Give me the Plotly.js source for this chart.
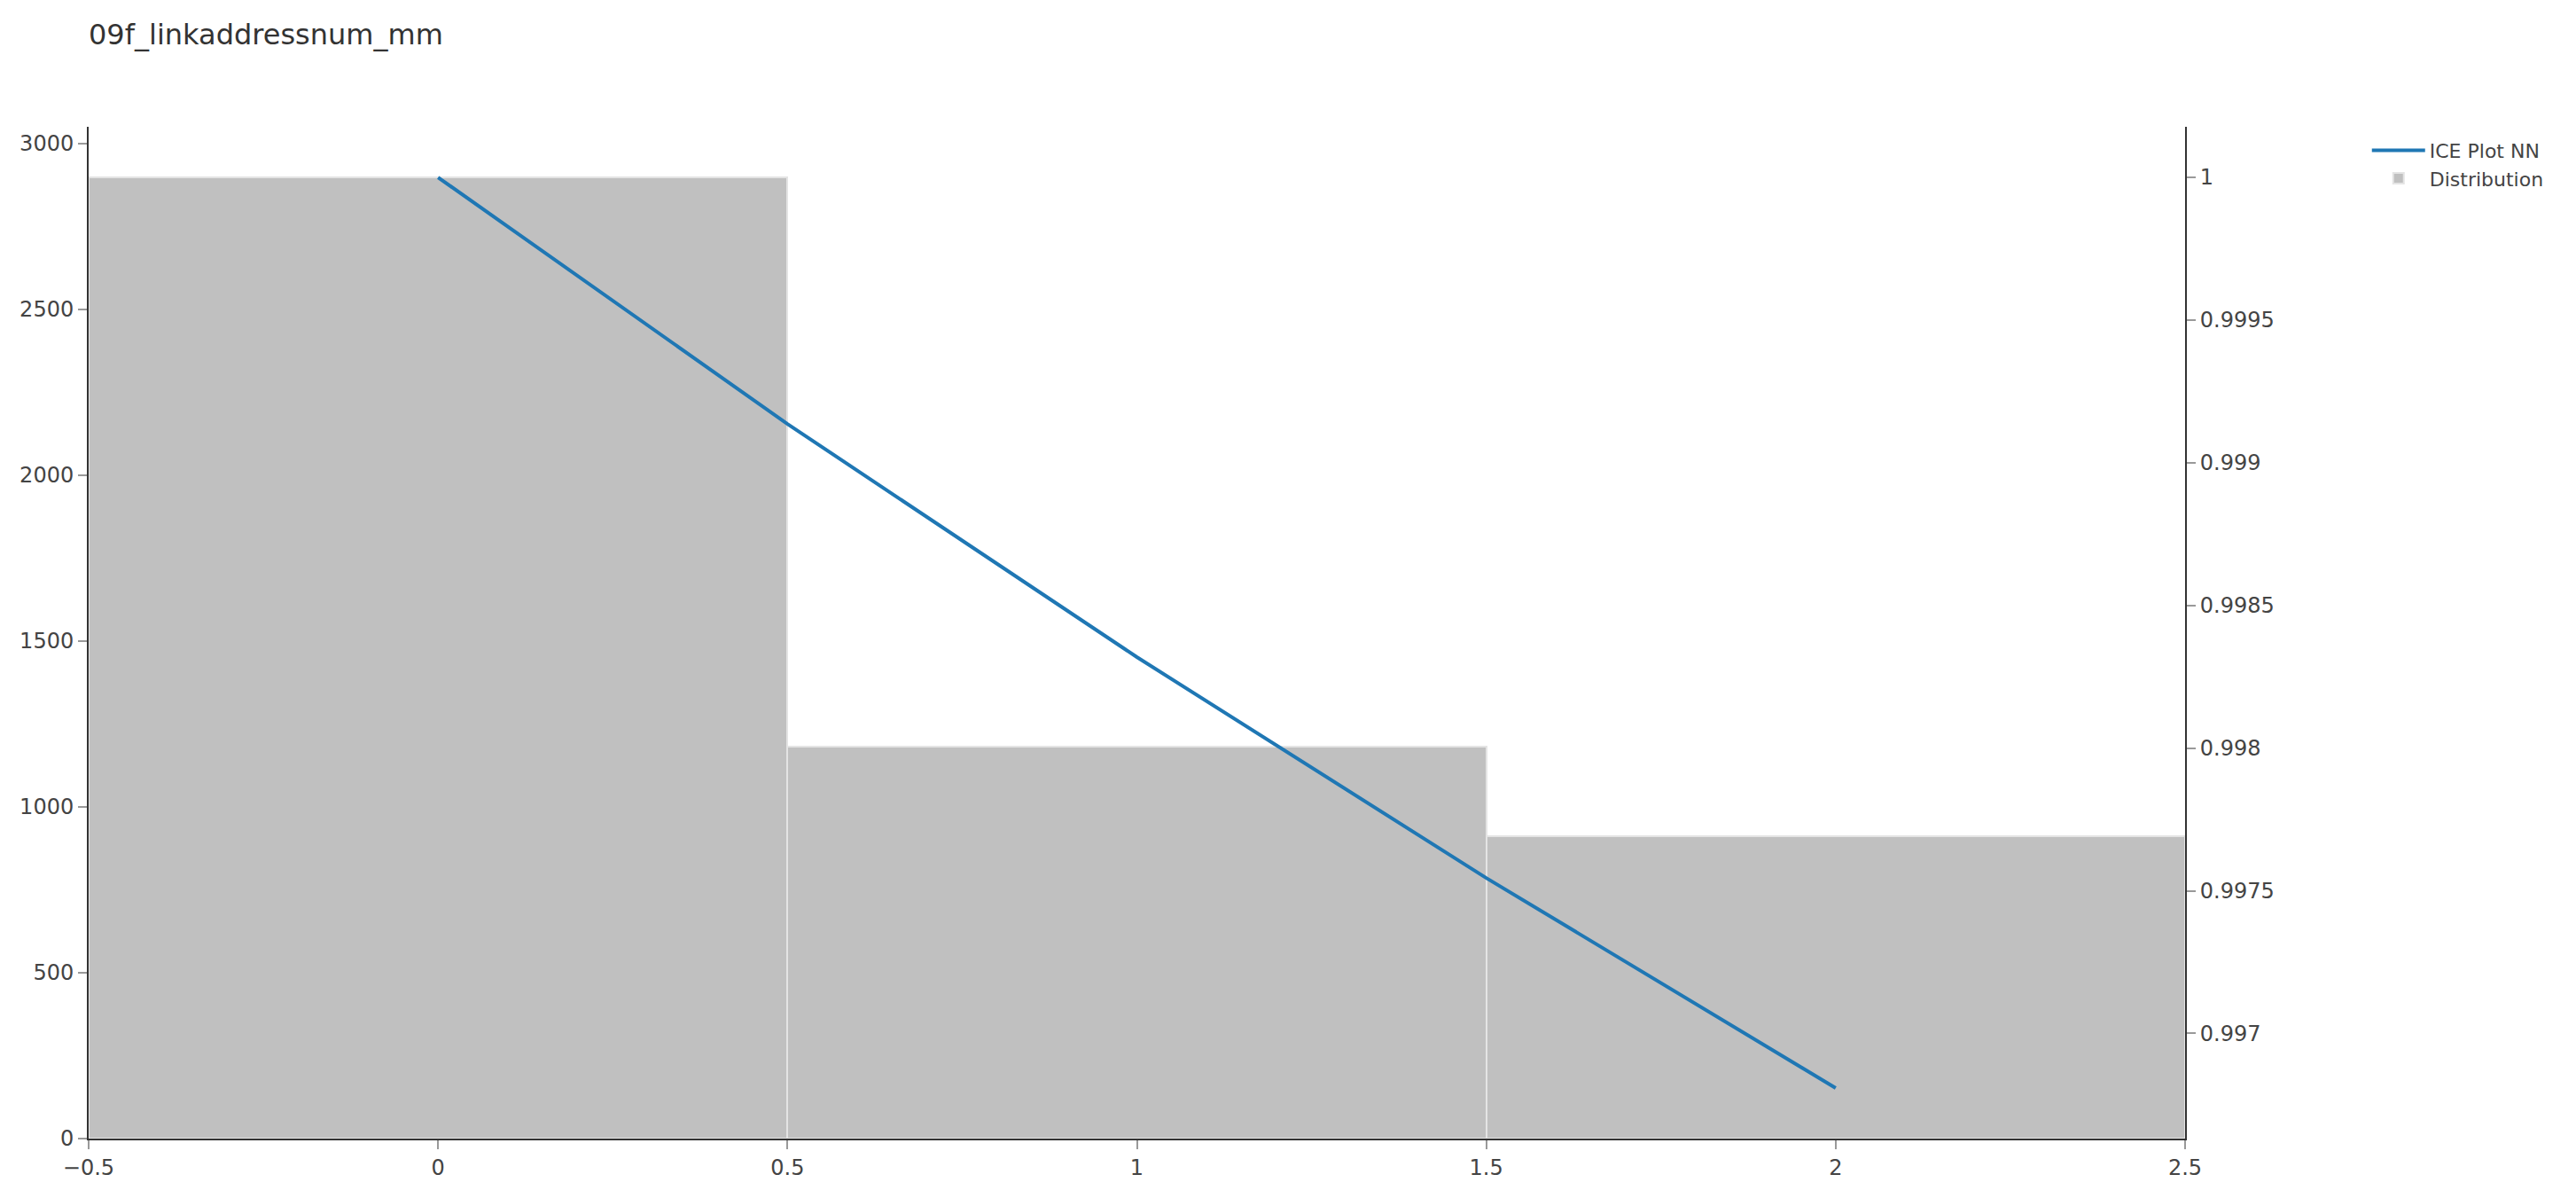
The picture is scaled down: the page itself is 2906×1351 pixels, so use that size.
<!DOCTYPE html>
<html>
<head>
<meta charset="utf-8">
<script src="https://cdn.plot.ly/plotly-3.0.1.min.js"></script>
<style>
  html, body { margin: 0; padding: 0; background: #fff; }
  #chart { width: 2906px; height: 1351px; }
</style>
</head>
<body>
<div id="chart"></div>
<script>
// ICE curve (right axis)
const iceX = [0, 0.5, 1, 1.5, 2];
const iceY = [1.0, 0.999136, 0.998319, 0.997545, 0.996809];

// distribution of the feature (left axis)
const distX = [0, 1, 2];
const distCounts = [2898, 1182, 912];

const chartFont = 'Verdana, "DejaVu Sans", sans-serif';

const traces = [
    {
        x: iceX,
        y: iceY,
        type: 'scatter',
        mode: 'lines',
        name: 'ICE Plot NN',
        yaxis: 'y2',
        line: { color: '#1f77b4', width: 4 }
    },
    {
        x: distX,
        y: distCounts,
        type: 'bar',
        name: 'Distribution',
        width: 1,
        marker: {
            color: '#c0c0c0',
            line: { color: '#e4e4e4', width: 2 }
        }
    }
];

const layout = {
    width: 2906,
    height: 1351,
    paper_bgcolor: '#ffffff',
    plot_bgcolor: '#ffffff',
    font: { family: chartFont, size: 24, color: '#444' },
    title: {
        text: '09f_linkaddressnum_mm',
        font: { family: chartFont, size: 32, color: '#333' },
        xref: 'paper',
        x: 0,
        xanchor: 'left',
        y: 0.971,
        yanchor: 'middle'
    },
    margin: { l: 100, r: 441, t: 143, b: 67 },
    bargap: 0,
    showlegend: true,
    legend: {
        x: 1.087,
        y: 0.995,
        xanchor: 'left',
        yanchor: 'top',
        itemwidth: 60,
        font: { family: chartFont, size: 22, color: '#444' },
        bgcolor: 'rgba(0,0,0,0)'
    },
    xaxis: {
        showgrid: false,
        zeroline: false,
        showline: true,
        linecolor: '#333',
        linewidth: 2,
        ticks: 'outside',
        ticklen: 10,
        tickwidth: 2,
        tickcolor: '#999',
        dtick: 0.5
    },
    yaxis: {
        showgrid: false,
        zeroline: false,
        showline: true,
        linecolor: '#333',
        linewidth: 2,
        ticks: 'outside',
        ticklen: 10,
        tickwidth: 2,
        tickcolor: '#999'
    },
    yaxis2: {
        overlaying: 'y',
        side: 'right',
        showgrid: false,
        zeroline: false,
        showline: true,
        linecolor: '#333',
        linewidth: 2,
        ticks: 'outside',
        ticklen: 10,
        tickwidth: 2,
        tickcolor: '#999'
    }
};

Plotly.newPlot('chart', traces, layout, { displayModeBar: false, responsive: false });
</script>
</body>
</html>
